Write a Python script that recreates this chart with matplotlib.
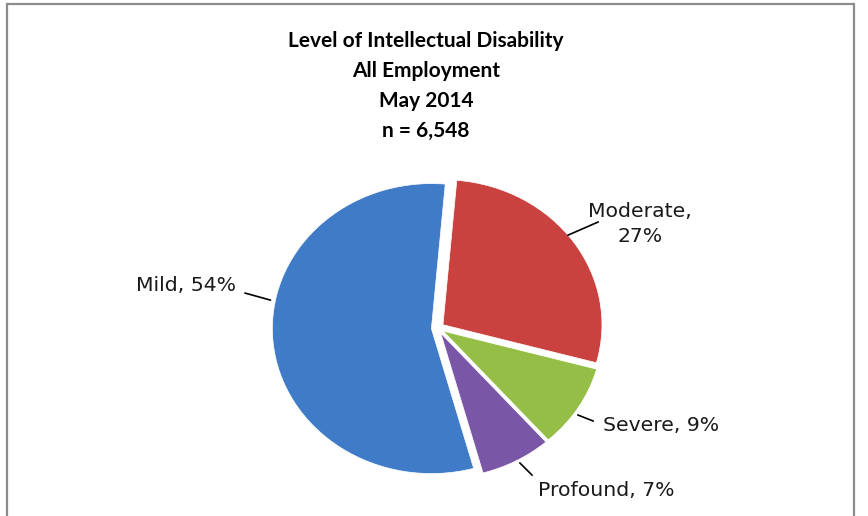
import matplotlib
matplotlib.use('Agg')
import matplotlib.pyplot as plt
from matplotlib.patches import Rectangle

# data
levels = ['Moderate', 'Severe', 'Profound', 'Mild']
pcts = [27, 9, 7, 54]
colors = ['#C9423F', '#94BE45', '#7A56A6', '#3F7BC7']

fig = plt.figure(figsize=(8.68, 5.16), dpi=100)

# grey frame round the chart area
fig.patches.append(Rectangle((7/868, -0.05), 847/868, 1.05 - 4/516, transform=fig.transFigure,
                             fill=False, edgecolor='#8c8c8c', linewidth=1.6))

fig.text(426/868, 1 - 86/516, 'Level of Intellectual Disability\nAll Employment\nMay 2014\nn = 6,548',
         ha='center', va='center', fontsize=15, fontweight='bold', linespacing=1.63,
         family='Lato')

ax = fig.add_axes([0.2753, 0.013, 0.458, 0.7025])
wedges, _ = ax.pie(pcts, colors=colors, startangle=85, counterclock=False,
                   explode=[0.04] * 4,
                   wedgeprops=dict(edgecolor='white', linewidth=0.5))
ax.set_aspect('auto')
ax.set_xlim(-1.25, 1.25)
ax.set_ylim(-1.25, 1.25)
ax.axis('off')

# labels with leader lines (data coords of the squashed pie)
lab = dict(fontsize=14.7, family='DejaVu Sans', color='#1a1a1a')
ax.plot([-1.053, -1.211], [0.193, 0.241], color='black', lw=1.2)
ax.text(-1.268, 0.290, f'Mild, {pcts[3]}%', ha='right', va='center', **lab)

ax.plot([0.820, 1.008], [0.641, 0.731], color='black', lw=1.2)
ax.text(1.272, 0.717, f'Moderate,\n{pcts[0]}%', ha='center', va='center', linespacing=1.45, **lab)

ax.plot([0.882, 0.977], [-0.600, -0.641], color='black', lw=1.2)
ax.text(1.040, -0.669, f'Severe, {pcts[1]}%', ha='left', va='center', **lab)

ax.plot([0.517, 0.593], [-0.931, -1.014], color='black', lw=1.2)
ax.text(0.630, -1.117, f'Profound, {pcts[2]}%', ha='left', va='center', **lab)

fig.savefig('out.png', dpi=100)
